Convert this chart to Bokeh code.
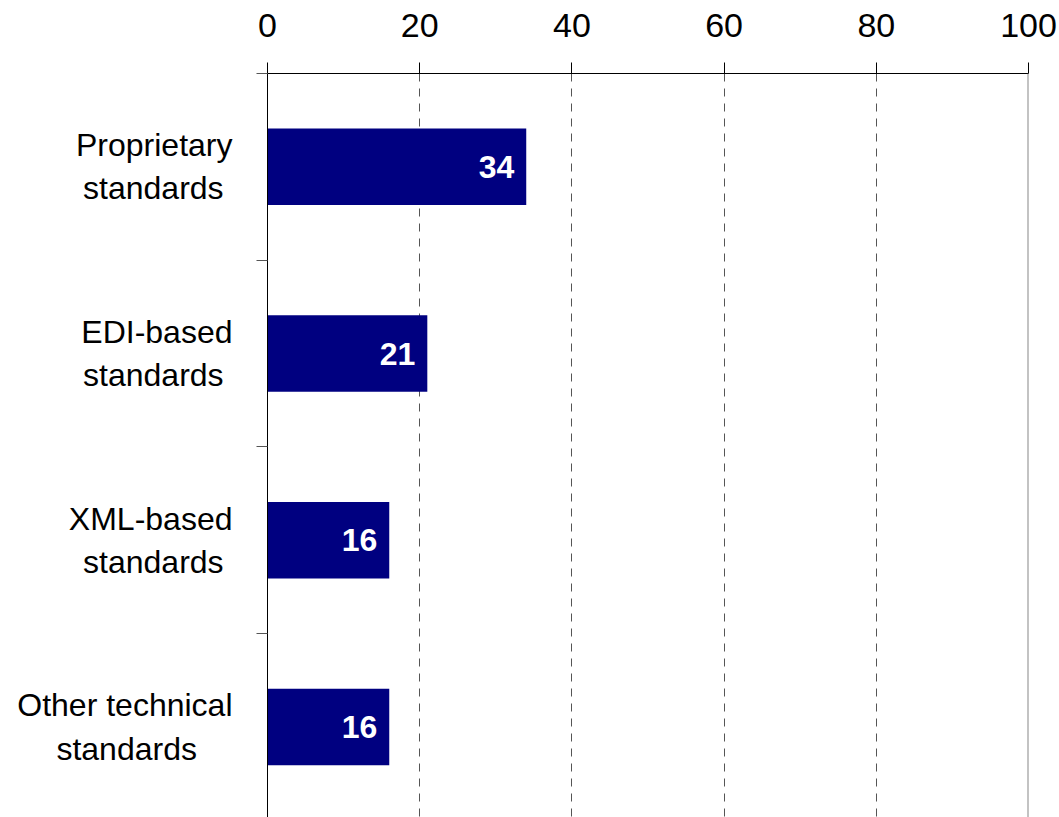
from bokeh.plotting import figure
from bokeh.models import Range1d, FixedTicker, Span, LinearAxis
from bokeh.core.properties import value
from bokeh.embed import file_html
from bokeh.resources import INLINE

NB = "\u00a0"
categories = ["Proprietary\nstandards", "EDI-based\nstandards", "XML-based\nstandards", "Other technical\nstandards"]
values = [34, 21, 16, 16]
x_ticks = [0, 20, 40, 60, 80, 100]
grid_ticks = [20, 40, 60, 80]
# non-breaking spaces to centre the shorter second line under the first
second_line_pad = [1, 1, 1, 4]

FONT = "Liberation Sans"
ys = [i + 0.5 for i in range(len(categories))]
boundaries = [i for i in range(len(categories) + 1)]

p = figure(width=1059, height=817, x_range=Range1d(0, 100), y_range=Range1d(3.985, 0),
           x_axis_location="above", y_axis_location=None,
           output_backend="svg", toolbar_location=None,
           min_border_left=267, min_border_right=31, min_border_top=73, min_border_bottom=0)
p.outline_line_color = None
p.background_fill_color = "white"
p.border_fill_color = "white"

xa = p.xaxis[0]
xa.ticker = FixedTicker(ticks=x_ticks)
xa.major_tick_out = 11
xa.major_tick_in = 0
xa.minor_tick_line_color = None
xa.major_label_text_font = FONT
xa.major_label_text_font_size = "34px"
xa.major_label_text_color = "black"
xa.major_label_standoff = 26
xa.axis_line_color = "black"
xa.major_tick_line_color = "black"

labels = {}
for cat, yy, pad in zip(categories, ys, second_line_pad):
    first, second = cat.split("\n")
    labels[yy] = first + "\n" + second + NB * pad
ya = LinearAxis(ticker=FixedTicker(ticks=ys, minor_ticks=boundaries), major_label_overrides=labels)
ya.axis_line_color = "black"
ya.major_tick_line_color = None
ya.major_tick_out = 0
ya.major_tick_in = 0
ya.minor_tick_line_color = "#555555"
ya.minor_tick_out = 11
ya.minor_tick_in = 0
ya.major_label_standoff = 24
ya.major_label_text_font = FONT
ya.major_label_text_font_size = "32px"
ya.major_label_text_color = "black"
p.add_layout(ya, "left")

p.xgrid.ticker = FixedTicker(ticks=grid_ticks)
p.xgrid.grid_line_color = "#555555"
p.xgrid.grid_line_dash = "8 7"
p.ygrid.grid_line_color = None

p.add_layout(Span(location=100, dimension="height", line_color="#888888", line_width=2))

p.hbar(y=ys, left=0, right=values, height=0.41, fill_color="#000080", line_color=None)

p.text(x=values, y=ys, text=[str(v) for v in values], x_offset=-12,
       text_align="right", text_baseline="middle", text_color="white",
       text_font=value(FONT), text_font_style="bold", text_font_size="32px")

open("out.html", "w").write(file_html(p, INLINE))
